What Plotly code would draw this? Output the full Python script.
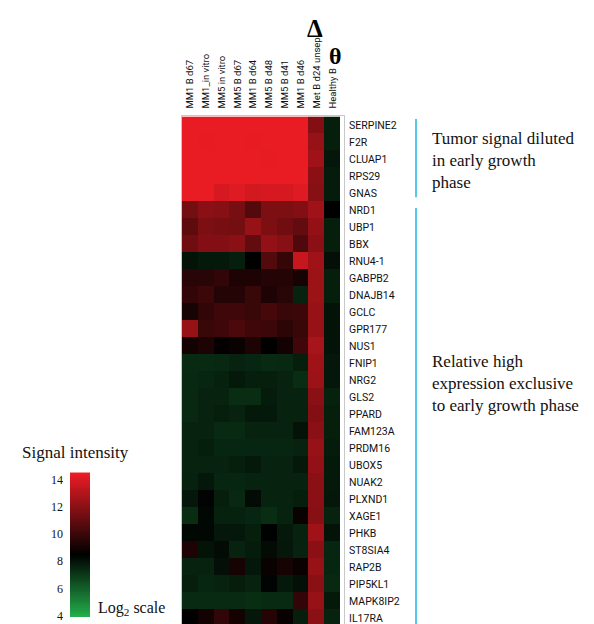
import numpy as np
import plotly.graph_objects as go

samples = ["MM1 B d67", "MM1_in vitro", "MM5 in vitro", "MM5 B d67", "MM1 B d64",
           "MM5 B d48", "MM5 B d41", "MM1 B d46", "Met B d24 unsep", "Healthy B"]

genes = ["SERPINE2", "F2R", "CLUAP1", "RPS29", "GNAS", "NRD1", "UBP1", "BBX", "RNU4-1",
         "GABPB2", "DNAJB14", "GCLC", "GPR177", "NUS1", "FNIP1", "NRG2", "GLS2", "PPARD",
         "FAM123A", "PRDM16", "UBOX5", "NUAK2", "PLXND1", "XAGE1", "PHKB", "ST8SIA4",
         "RAP2B", "PIP5KL1", "MAPK8IP2", "IL17RA"]

# log2 signal intensity, rows = genes, columns = samples
signal = [
    [14.4, 14.4, 14.4, 14.4, 14.4, 14.4, 14.4, 14.4, 11.8, 7.7],
    [14.4, 14.3, 14.4, 14.4, 14.3, 14.4, 14.4, 14.4, 12.3, 7.7],
    [14.4, 14.4, 14.4, 14.4, 14.4, 14.3, 14.4, 14.4, 12.5, 7.9],
    [14.4, 14.4, 14.4, 14.4, 14.4, 14.4, 14.4, 14.4, 12.0, 7.8],
    [14.4, 14.4, 13.9, 14.1, 13.8, 13.9, 13.9, 14.1, 11.9, 7.8],
    [11.4, 12.0, 11.9, 11.5, 10.6, 11.65, 11.65, 11.8, 12.5, 8.5],
    [10.9, 11.65, 11.5, 11.4, 12.3, 11.65, 11.3, 11.0, 12.2, 7.7],
    [11.3, 11.8, 11.8, 12.0, 11.0, 12.2, 11.9, 10.5, 12.0, 7.7],
    [8.0, 7.85, 7.85, 7.7, 8.5, 10.6, 9.8, 13.5, 12.5, 8.1],
    [9.5, 9.5, 9.76, 9.25, 9.25, 9.4, 9.4, 9.1, 12.4, 7.7],
    [9.76, 10.0, 9.4, 9.4, 9.9, 9.25, 9.5, 7.6, 12.4, 7.7],
    [9.1, 9.76, 10.1, 10.1, 9.9, 10.3, 9.9, 10.0, 12.3, 8.0],
    [12.3, 9.9, 10.1, 10.4, 10.1, 10.0, 9.6, 9.9, 12.3, 8.0],
    [9.0, 9.25, 8.6, 8.75, 9.25, 8.5, 9.0, 10.1, 12.7, 8.0],
    [7.4, 7.4, 7.46, 7.6, 7.5, 7.4, 7.46, 7.7, 12.5, 7.9],
    [7.46, 7.5, 7.65, 7.85, 7.7, 7.7, 7.6, 7.33, 12.4, 7.9],
    [7.46, 7.6, 7.6, 7.33, 7.33, 7.8, 7.6, 7.6, 12.0, 7.65],
    [7.46, 7.6, 7.7, 7.6, 7.85, 7.85, 7.6, 7.6, 11.8, 7.7],
    [7.6, 7.6, 7.4, 7.4, 7.6, 7.6, 7.6, 8.0, 12.0, 7.7],
    [7.6, 7.7, 7.5, 7.5, 7.5, 7.5, 7.5, 7.6, 12.3, 7.8],
    [7.6, 7.6, 7.6, 7.7, 7.85, 7.6, 7.6, 7.85, 12.2, 7.85],
    [7.65, 7.9, 7.5, 7.5, 7.6, 7.6, 7.6, 7.6, 12.0, 7.85],
    [7.9, 8.4, 7.7, 7.46, 8.2, 7.6, 7.6, 7.7, 12.0, 7.9],
    [7.33, 8.3, 7.65, 7.65, 7.5, 7.33, 7.6, 8.75, 11.9, 7.6],
    [8.3, 8.3, 7.9, 7.9, 7.7, 8.45, 7.85, 7.6, 12.5, 8.0],
    [9.25, 8.0, 8.2, 7.6, 7.8, 8.2, 7.9, 7.6, 12.0, 7.5],
    [7.6, 7.6, 8.1, 9.1, 7.9, 8.75, 9.1, 8.75, 12.3, 7.5],
    [7.7, 7.5, 7.6, 7.75, 7.6, 8.4, 7.85, 8.1, 12.0, 7.46],
    [7.4, 7.4, 7.4, 7.4, 7.33, 7.4, 7.4, 9.76, 12.3, 7.85],
    [8.5, 9.0, 9.76, 9.0, 7.9, 9.4, 8.7, 7.7, 12.0, 7.6],
]

scale_ticks = [4, 6, 8, 10, 12, 14]
zmin, zmax = 3.9, 14.5

colorscale = [[0.0, "rgb(34,177,76)"], [0.434, "rgb(0,0,0)"], [1.0, "rgb(238,28,36)"]]

W, H = 594, 624
def px_x(p): return p / W
def px_y(p): return 1 - p / H

fig = go.Figure()
fig.add_trace(go.Heatmap(
    z=signal, x=samples, y=genes, colorscale=colorscale, zmin=zmin, zmax=zmax,
    showscale=False, xgap=0, ygap=0, xaxis="x", yaxis="y"))

# gradient legend (signal intensity scale)
grad = np.linspace(zmin, zmax, 160)
fig.add_trace(go.Heatmap(
    z=[[v] for v in grad], x=[0], y=grad, colorscale=colorscale, zmin=zmin, zmax=zmax,
    showscale=False, xaxis="x2", yaxis="y2", hoverinfo="skip"))

sans = "Roboto"
serif = "Liberation Serif"

fig.update_layout(
    width=W, height=H, margin=dict(l=0, r=0, t=0, b=0),
    paper_bgcolor="white", plot_bgcolor="white",
    xaxis=dict(domain=[px_x(174), px_x(336)], side="top", tickangle=-90,
               tickfont=dict(family=sans, size=9.5, color="#111"), ticks="",
               ticklabelstandoff=5, showgrid=False, zeroline=False,
               showline=True, linecolor="#c8c8c8", linewidth=1, mirror=True),
    yaxis=dict(domain=[0, px_y(109.5)], side="right", range=[29.45, -0.5],
               tickfont=dict(family=sans, size=10.5, color="#111"), ticks="",
               ticklabelstandoff=2, showgrid=False, zeroline=False,
               showline=True, linecolor="#c8c8c8", linewidth=1, mirror=True),
    xaxis2=dict(domain=[px_x(62), px_x(82)], anchor="y2", showticklabels=False,
                ticks="", showgrid=False, zeroline=False),
    yaxis2=dict(domain=[px_y(615), px_y(469)], anchor="x2", range=[zmin, zmax],
                tickvals=scale_ticks, ticktext=[str(t) for t in scale_ticks],
                tickfont=dict(family=serif, size=12, color="#111"), ticks="",
                ticklabelstandoff=6, showgrid=False, zeroline=False),
    showlegend=False,
)

ann = [
    dict(text="<b>Δ</b>", x="Met B d24 unsep", xref="x", xshift=-2, y=px_y(21), yref="paper",
         showarrow=False, font=dict(family=serif, size=25, color="#000"),
         xanchor="center", yanchor="middle"),
    dict(text="<b>θ</b>", x="Healthy B", xref="x", xshift=3, y=px_y(48), yref="paper",
         showarrow=False, font=dict(family=serif, size=24, color="#000"),
         xanchor="center", yanchor="middle"),
    dict(text="Tumor signal diluted<br>in early growth<br>phase", x=px_x(422), y=px_y(154),
         xref="paper", yref="paper", showarrow=False, align="left",
         xanchor="left", yanchor="middle", font=dict(family=serif, size=17, color="#111")),
    dict(text="Relative high<br>expression exclusive<br>to early growth phase", x=px_x(422),
         y=px_y(379), xref="paper", yref="paper", showarrow=False, align="left",
         xanchor="left", yanchor="middle", font=dict(family=serif, size=17, color="#111")),
    dict(text="Signal intensity", x=px_x(12), y=px_y(449), xref="paper", yref="paper",
         showarrow=False, xanchor="left", yanchor="middle",
         font=dict(family=serif, size=17, color="#111")),
    dict(text="Log<sub>2</sub> scale", x=px_x(88), y=px_y(606), xref="paper", yref="paper",
         showarrow=False, xanchor="left", yanchor="middle",
         font=dict(family=serif, size=16, color="#111")),
]
fig.update_layout(annotations=ann)

line_col = "rgb(88,200,232)"
fig.add_shape(type="line", xref="paper", yref="paper", x0=px_x(408), x1=px_x(408),
              y0=px_y(112), y1=px_y(191), line=dict(color=line_col, width=2))
fig.add_shape(type="line", xref="paper", yref="paper", x0=px_x(408), x1=px_x(408),
              y0=px_y(202), y1=0, line=dict(color=line_col, width=2))

fig.write_html("out.html")
